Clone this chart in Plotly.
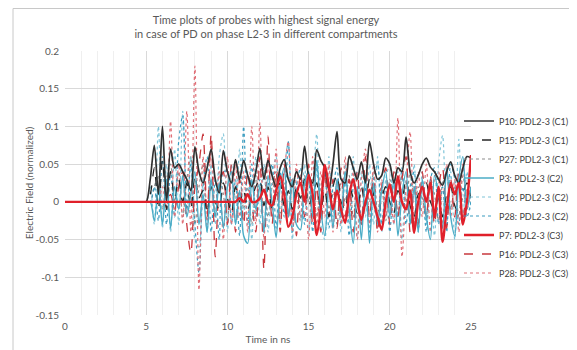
import plotly.graph_objects as go

# time axis (ns)
t_ns = [0.0, 1.0, 2.0, 3.0, 4.0, 4.5, 4.75,
        5.0, 5.25, 5.5, 5.75, 6.0, 6.25, 6.5, 6.75, 7.0, 7.25, 7.5, 7.75,
        8.0, 8.25, 8.5, 8.75, 9.0, 9.25, 9.5, 9.75, 10.0, 10.25, 10.5, 10.75,
        11.0, 11.25, 11.5, 11.75, 12.0, 12.25, 12.5, 12.75, 13.0, 13.25, 13.5, 13.75,
        14.0, 14.25, 14.5, 14.75, 15.0, 15.25, 15.5, 15.75, 16.0, 16.25, 16.5, 16.75,
        17.0, 17.25, 17.5, 17.75, 18.0, 18.25, 18.5, 18.75, 19.0, 19.25, 19.5, 19.75,
        20.0, 20.25, 20.5, 20.75, 21.0, 21.25, 21.5, 21.75, 22.0, 22.25, 22.5, 22.75,
        23.0, 23.25, 23.5, 23.75, 24.0, 24.25, 24.5, 24.75, 25.0]

p10_c1 = [0.0, 0.0, 0.0, 0.0, 0.0, 0.0, 0.0,
          0.0, 0.03, 0.075, 0.01, 0.1, 0.0, 0.07, 0.045, 0.05, 0.04, 0.03, 0.015,
          0.073, 0.04, 0.025, 0.045, 0.07, 0.03, 0.012, 0.068, 0.04, 0.025, 0.056, 0.03,
          0.055, 0.035, 0.02, 0.04, 0.071, 0.03, 0.055, 0.035, 0.02, 0.045, 0.056, 0.03,
          0.02, 0.04, 0.03, 0.074, 0.035, 0.025, 0.069, 0.055, 0.045, 0.016, 0.05, 0.093,
          0.03, 0.025, 0.061, 0.045, 0.03, 0.053, 0.025, 0.08, 0.05, 0.03, 0.035, 0.058,
          0.05, 0.025, 0.045, 0.04, 0.086, 0.04, 0.025, 0.035, 0.05, 0.058, 0.046, 0.04,
          0.03, 0.022, 0.04, 0.053, 0.035, 0.025, 0.045, 0.06, 0.058]

p15_c1 = [0.0, 0.0, 0.0, 0.0, 0.0, 0.0, 0.0,
          0.0, 0.01, 0.045, -0.01, 0.055, -0.01, 0.04, 0.005, 0.03, 0.0, 0.025, -0.01,
          0.035, 0.005, 0.015, -0.015, 0.02, 0.0, -0.01, 0.025, 0.005, -0.015, 0.02, 0.0,
          0.015, -0.01, 0.005, 0.02, 0.03, -0.005, 0.02, -0.01, 0.01, 0.025, -0.005, 0.015,
          -0.01, 0.02, 0.005, 0.03, -0.005, 0.01, 0.025, -0.01, 0.015, -0.02, 0.02, 0.035,
          0.0, -0.01, 0.02, 0.005, -0.015, 0.02, -0.005, 0.03, 0.01, -0.02, 0.005, 0.02,
          0.0, -0.015, 0.015, 0.005, 0.03, -0.005, -0.02, 0.01, 0.015, 0.025, 0.0, -0.01,
          0.005, -0.02, 0.01, 0.02, -0.005, -0.015, 0.01, 0.025, 0.005]

p27_c1 = [0.0, 0.0, 0.0, 0.0, 0.0, 0.0, 0.0,
          0.0, 0.0, 0.02, 0.035, -0.01, 0.03, 0.05, 0.0, 0.04, -0.02, 0.03, 0.06,
          -0.03, 0.02, 0.05, -0.01, 0.03, -0.02, 0.04, 0.01, -0.025, 0.03, 0.005, 0.04,
          -0.01, 0.02, -0.03, 0.035, 0.0, 0.045, -0.02, 0.02, 0.04, -0.015, 0.025, -0.02,
          0.03, 0.01, -0.025, 0.035, 0.0, 0.03, -0.02, 0.02, 0.04, -0.01, 0.01, -0.03,
          0.025, 0.0, 0.035, -0.02, 0.02, -0.03, 0.03, 0.0, 0.04, -0.015, 0.02, -0.025,
          0.03, 0.005, -0.02, 0.035, 0.0, 0.04, -0.03, 0.02, 0.005, -0.02, 0.03, 0.01,
          -0.025, 0.025, 0.04, -0.01, 0.02, -0.02, 0.035, 0.005, 0.02]

p3_c2 = [0.0, 0.0, 0.0, 0.0, 0.0, 0.0, 0.0,
         0.0, 0.0, -0.025, 0.02, -0.03, 0.03, -0.035, 0.02, -0.01, 0.035, -0.02, 0.01,
         0.04, -0.03, 0.01, -0.04, 0.03, -0.02, 0.025, -0.035, 0.02, 0.04, -0.03, 0.015,
         -0.045, -0.055, 0.03, -0.01, 0.02, -0.04, 0.035, 0.0, -0.047, 0.02, 0.045, -0.02,
         0.03, -0.03, -0.037, 0.025, 0.04, -0.02, 0.055, -0.01, -0.045, 0.02, -0.035, 0.03,
         -0.02, 0.04, -0.01, -0.055, 0.02, -0.05, 0.035, -0.055, 0.025, -0.03, 0.015, 0.04,
         -0.02, 0.03, -0.045, 0.01, 0.04, -0.03, 0.02, -0.04, 0.03, -0.02, -0.05, 0.035,
         0.01, -0.035, 0.045, -0.02, -0.045, 0.03, 0.06, -0.01, 0.02]

p16_c2 = [0.0, 0.0, 0.0, 0.0, 0.0, 0.0, 0.0,
          0.0, 0.02, -0.03, 0.1, -0.035, 0.05, -0.04, 0.07, -0.03, 0.12, -0.02, 0.06,
          -0.05, -0.06, 0.03, -0.04, 0.05, -0.03, 0.06, 0.09, -0.04, 0.05, -0.03, 0.07,
          -0.02, 0.04, -0.05, 0.06, -0.03, 0.05, -0.04, 0.03, 0.06, -0.03, 0.04, 0.08,
          -0.05, 0.03, -0.02, 0.05, -0.04, 0.02, 0.09, -0.03, -0.05, 0.06, -0.02, 0.03,
          -0.04, 0.05, -0.03, 0.06, -0.05, 0.04, -0.02, 0.05, -0.03, 0.06, -0.04, 0.03,
          0.05, -0.03, 0.04, -0.05, 0.03, -0.02, 0.05, -0.04, 0.04, -0.03, 0.02, -0.045,
          0.05, 0.088, -0.03, 0.04, -0.05, 0.083, -0.02, 0.04, -0.01]

p28_c2 = [0.0, 0.0, 0.0, 0.0, 0.0, 0.0, 0.0,
          0.0, 0.0, 0.02, -0.025, 0.06, -0.03, 0.04, -0.02, 0.08, 0.115, -0.01, 0.05,
          -0.03, -0.094, 0.02, 0.06, -0.04, 0.03, -0.05, 0.04, 0.04, -0.03, 0.03, -0.045,
          0.1, -0.03, 0.05, -0.02, 0.03, -0.04, 0.02, 0.05, -0.035, 0.04, -0.02, 0.08,
          -0.04, 0.02, 0.045, -0.03, 0.03, -0.04, 0.05, -0.02, 0.04, -0.035, 0.02, 0.045,
          -0.03, 0.03, -0.045, 0.02, 0.04, -0.03, 0.02, -0.04, 0.03, 0.05, -0.03, 0.02,
          -0.04, 0.03, -0.02, 0.045, -0.03, 0.02, 0.04, -0.035, 0.02, -0.04, 0.03, 0.045,
          -0.03, 0.02, -0.04, 0.05, 0.03, -0.03, 0.02, -0.02, 0.0]

p7_c3 = [0.0, 0.0, 0.0, 0.0, 0.0, 0.0, 0.0,
         0.0, 0.0, 0.0, 0.0, 0.0, 0.0, 0.0, 0.0, 0.0, 0.0, 0.0, 0.0,
         0.0, 0.0, 0.0, 0.0, 0.0, 0.0, 0.0, 0.0, 0.0, 0.0, 0.0, 0.005,
         0.0, 0.01, 0.0, 0.0, 0.005, 0.016, 0.0, -0.005, 0.015, 0.034, 0.01, -0.033,
         -0.02, 0.01, 0.025, 0.0, 0.036, 0.01, -0.044, -0.01, 0.049, 0.02, -0.01, 0.015,
         -0.01, -0.028, 0.01, 0.03, 0.0, -0.024, 0.0, 0.016, 0.0, -0.02, -0.037, 0.0,
         0.023, 0.0, 0.034, 0.0, -0.01, 0.015, -0.041, 0.0, 0.02, 0.0, 0.025, -0.02,
         0.02, -0.053, -0.01, 0.025, 0.01, 0.025, -0.03, 0.0, 0.062]

p16_c3 = [0.0, 0.0, 0.0, 0.0, 0.0, 0.0, 0.0,
          0.0, 0.0, 0.0, 0.0, 0.0, 0.0, 0.01, -0.01, 0.02, 0.04, -0.03, -0.068,
          0.02, 0.05, 0.09, -0.02, 0.09, -0.073, 0.02, 0.04, -0.03, 0.05, -0.04, 0.03,
          -0.03, 0.04, 0.0, -0.04, 0.06, -0.09, 0.087, -0.03, 0.04, -0.04, 0.05, -0.02,
          0.03, -0.045, 0.04, -0.02, 0.05, -0.03, 0.02, -0.04, 0.04, -0.02, 0.03, -0.035,
          0.045, -0.02, 0.03, -0.04, 0.04, -0.03, 0.06, -0.02, 0.03, -0.04, 0.02, 0.045,
          -0.03, 0.04, -0.02, 0.03, 0.06, -0.04, 0.02, -0.03, 0.04, -0.02, 0.035, -0.03,
          0.02, 0.045, -0.035, 0.03, -0.02, 0.04, -0.03, 0.02, 0.01]

p28_c3 = [0.0, 0.0, 0.0, 0.0, 0.0, 0.0, 0.0,
          0.0, 0.0, 0.0, 0.0, 0.02, -0.01, 0.107, -0.02, 0.05, -0.03, 0.12, -0.04,
          0.18, -0.117, 0.06, -0.03, 0.08, -0.02, 0.04, -0.05, 0.06, -0.03, 0.05, -0.02,
          0.04, -0.04, 0.1, -0.03, 0.105, -0.05, 0.06, -0.02, 0.07, -0.03, 0.04, 0.08,
          -0.04, 0.05, -0.02, 0.03, -0.05, 0.06, -0.03, 0.04, -0.02, 0.05, -0.04, 0.03,
          -0.03, 0.06, -0.02, 0.04, -0.05, 0.03, 0.07, -0.03, 0.05, -0.04, 0.03, -0.02,
          0.02, -0.03, 0.111, -0.073, 0.02, 0.093, -0.03, 0.04, -0.02, 0.05, -0.04, 0.03,
          0.04, -0.03, 0.05, -0.02, 0.03, -0.04, 0.05, -0.01, 0.02]

y_ticks = [-0.15, -0.1, -0.05, 0, 0.05, 0.1, 0.15, 0.2]
y_tick_text = ["-0.15", "-0.1", "-0.05", "0", "0.05", "0.1", "0.15", "0.2"]
x_ticks = [0, 5, 10, 15, 20, 25]

series = [
    # name, values, color, width, dash, legend rank
    ("P27: PDL2-3 (C1)", p27_c1, "#8C8C8C", 1.2, "dot", 3),
    ("P16: PDL2-3 (C2)", p16_c2, "#7FC4D8", 1.2, "dot", 5),
    ("P28: PDL2-3 (C2)", p28_c2, "#3A9CC0", 1.2, "dot", 6),
    ("P28: PDL2-3 (C3)", p28_c3, "#E07078", 1.2, "dot", 9),
    ("P16: PDL2-3 (C3)", p16_c3, "#C8383E", 1.3, "dash", 8),
    ("P15: PDL2-3 (C1)", p15_c1, "#262626", 1.3, "dash", 2),
    ("P3: PDL2-3 (C2)", p3_c2, "#4BACC6", 1.4, "solid", 4),
    ("P10: PDL2-3 (C1)", p10_c1, "#303030", 1.7, "solid", 1),
    ("P7: PDL2-3 (C3)", p7_c3, "#E0202A", 2.4, "solid", 7),
]

fig = go.Figure()
for name, vals, color, width, dash, rank in series:
    fig.add_trace(go.Scatter(
        x=t_ns, y=vals, mode="lines", name=name, legendrank=rank,
        line=dict(color=color, width=width, dash=dash, shape="spline", smoothing=0.8),
    ))

# the page body adds an 8 px offset, so the figure is 8 px smaller and shifted
OFF = 8
W, H = 577 - OFF, 350 - OFF
L, T = 65 - OFF, 51 - OFF
R, B = W - (471 - OFF), H - (315 - OFF)
pw, ph = W - L - R, H - T - B

fig.update_layout(
    width=W, height=H,
    margin=dict(l=L, r=R, t=T, b=B, autoexpand=False),
    paper_bgcolor="white", plot_bgcolor="white",
    font=dict(family="Lato, Open Sans, sans-serif", size=10, color="#595959"),
    title=dict(
        text="Time plots of probes with highest signal energy<br>in case of PD on phase L2-3 in different compartments",
        x=(266 - OFF) / W, xanchor="center", y=1 - (23.5 - OFF) / H, yanchor="middle",
        font=dict(size=11, color="#595959"),
    ),
    showlegend=True,
    legend=dict(x=(459 - 65) / pw, xanchor="left", y=(315 - 197) / ph, yanchor="middle",
                font=dict(size=9, color="#404040"), bgcolor="rgba(0,0,0,0)",
                tracegroupgap=0, itemwidth=30),
    xaxis=dict(range=[0, 25], tickvals=x_ticks, showgrid=True, gridcolor="#D9D9D9",
               gridwidth=1, zeroline=False, showline=False, ticks="", automargin=False,
               ticklabelstandoff=4,
               minor=dict(dtick=1, showgrid=True, gridcolor="#EFEFEF"),
               title=dict(text="Time in ns", font=dict(size=10), standoff=4),
               tickfont=dict(size=10)),
    yaxis=dict(range=[-0.15, 0.2], tickvals=y_ticks, ticktext=y_tick_text, showgrid=True,
               gridcolor="#D9D9D9", gridwidth=1, zeroline=False, showline=False, ticks="",
               automargin=False, ticklabelstandoff=5,
               title=dict(text="Electric Field (normalized)", font=dict(size=10), standoff=0),
               tickfont=dict(size=10)),
    shapes=[dict(type="rect", xref="paper", yref="paper",
                 x0=(13 - 65) / pw, x1=(574 - 65) / pw,
                 y0=(315 - 360) / ph, y1=(315 - 8.5) / ph,
                 line=dict(color="#C8C8C8", width=1), fillcolor="rgba(0,0,0,0)", layer="below")],
)

fig.write_html("out.html")
